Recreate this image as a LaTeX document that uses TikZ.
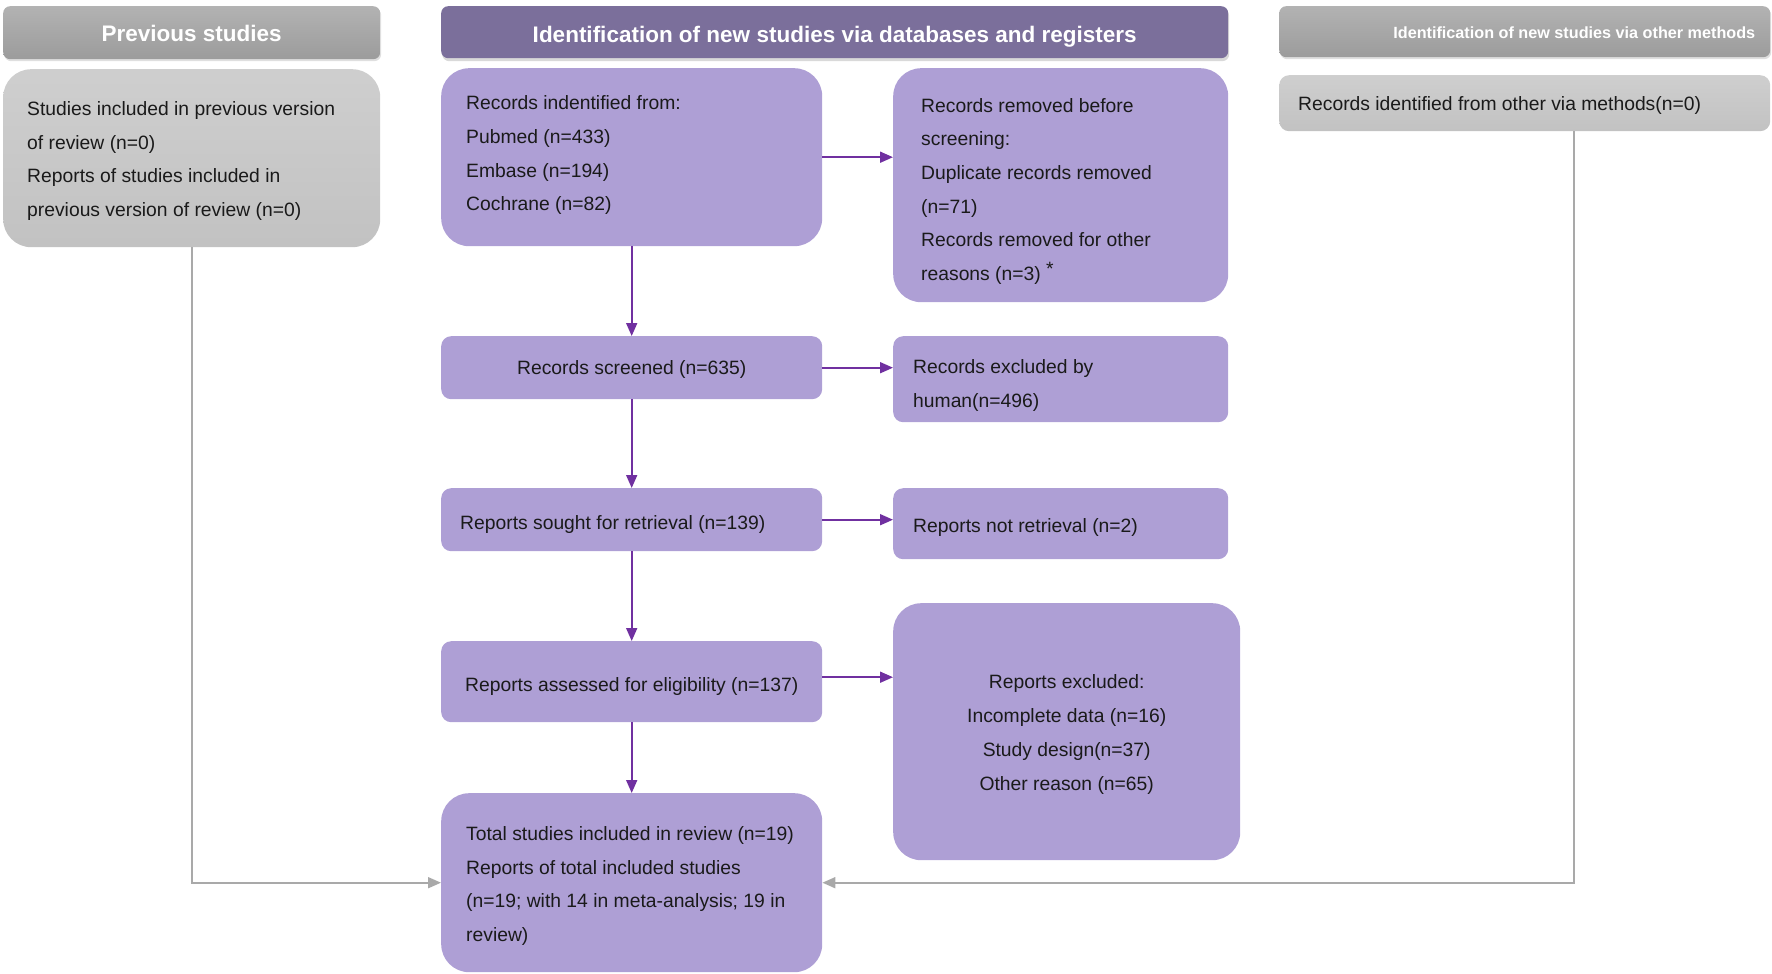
\documentclass[tikz,border=0pt]{standalone}
\usepackage{fontspec}
\setmainfont{Liberation Sans}
\usetikzlibrary{arrows.meta,shadows}
\definecolor{lav}{HTML}{AE9FD5}
\definecolor{purphead}{HTML}{7B6F9B}
\definecolor{purparrow}{HTML}{7030A0}
\definecolor{greyline}{HTML}{A9A9A9}
\definecolor{txt}{HTML}{1A1A1A}
\tikzset{
  pbox/.style={fill=lav, draw=none, inner sep=0pt, anchor=north west},
  gbox/.style={top color=gray!38, bottom color=gray!48, draw=none, inner sep=0pt, anchor=north west},
  ghead/.style={top color=gray!60, bottom color=gray!78, draw=none, inner sep=0pt, anchor=north west,
    rounded corners=7pt, drop shadow={shadow xshift=1pt, shadow yshift=-2pt, opacity=0.25}},
  phead/.style={fill=purphead, draw=none, inner sep=0pt, anchor=north west,
    rounded corners=7pt, drop shadow={shadow xshift=1pt, shadow yshift=-3pt, opacity=0.3}},
  big/.style={rounded corners=28pt},
  small/.style={rounded corners=10pt},
  btxt/.style={inner sep=0pt, text=txt, font=\fontsize{19.3}{33.7}\selectfont},
  ltxt/.style={btxt, anchor=west, align=left},
  ctxt/.style={btxt, anchor=center, align=center},
  htxt/.style={inner sep=0pt, text=white, font=\fontsize{22.5}{26}\selectfont\bfseries},
  parrow/.style={draw=purparrow, line width=1.8pt, -{Triangle[length=13pt,width=11pt]}},
  garrow/.style={draw=greyline, line width=1.8pt, -{Triangle[length=13pt,width=11pt]}},
}
\begin{document}
\begin{tikzpicture}[x=1pt,y=-1pt]
\useasboundingbox (0,0) rectangle (1772,974);
% headers
\node[ghead, minimum width=377, minimum height=53] (prevhead) at (3,6) {};
\node[htxt] (prevheadT) at ([yshift=-1.1pt]prevhead.center) {Previous studies};
\node[phead, minimum width=787, minimum height=52] (dbhead) at (441,6) {};
\node[htxt] (dbheadT) at ([yshift=-4.5pt]dbhead.center) {Identification of new studies via databases and registers};
\node[ghead, minimum width=491, minimum height=51] (othhead) at (1279,6) {};
\node[htxt, anchor=east, font=\fontsize{16.2}{20}\selectfont\bfseries] (othheadT) at ([xshift=-15pt,yshift=-1pt]othhead.east) {Identification of new studies via other methods};
% left column
\node[gbox, big, minimum width=377, minimum height=178] (prevbox) at (3,69) {};
\node[ltxt] (prevboxT) at ([xshift=24pt,yshift=-2.8pt]prevbox.west)
  {Studies included in previous version\\of review (n=0)\\Reports of studies included in\\previous version of review (n=0)};
% right column
\node[gbox, small, minimum width=491, minimum height=56] (othbox) at (1279,75) {};
\node[ltxt] (othboxT) at ([xshift=19pt,yshift=-2.3pt]othbox.west)
  {Records identified from other via methods(n=0)};
% centre column
\node[pbox, big, minimum width=381, minimum height=178] (ident) at (441,68) {};
\node[ltxt] (identT) at ([xshift=25pt,yshift=1.8pt]ident.west)
  {Records indentified from:\\Pubmed (n=433)\\Embase (n=194)\\Cochrane (n=82)};
\node[pbox, big, minimum width=335, minimum height=234] (removed) at (893,68) {};
\node[ltxt] (removedT) at ([xshift=28pt,yshift=-6.2pt]removed.west)
  {Records removed before\\screening:\\Duplicate records removed\\(n=71)\\Records removed for other\\reasons (n=3) \raisebox{5pt}{*}};
\node[pbox, small, minimum width=381, minimum height=63] (screened) at (441,336) {};
\node[ctxt] (screenedT) at ([yshift=-2.3pt]screened.center) {Records screened (n=635)};
\node[pbox, small, minimum width=335, minimum height=86] (excluded) at (893,336) {};
\node[ltxt] (excludedT) at ([xshift=20pt,yshift=-6.2pt]excluded.west) {Records excluded by\\human(n=496)};
\node[pbox, small, minimum width=381, minimum height=63] (sought) at (441,488) {};
\node[ltxt] (soughtT) at ([xshift=19pt,yshift=-4.5pt]sought.west) {Reports sought for retrieval (n=139)};
\node[pbox, small, minimum width=335, minimum height=71] (notret) at (893,488) {};
\node[ltxt] (notretT) at ([xshift=20pt,yshift=-3.4pt]notret.west) {Reports not retrieval (n=2)};
\node[pbox, small, minimum width=381, minimum height=81] (assessed) at (441,641) {};
\node[ctxt] (assessedT) at ([yshift=-4.5pt]assessed.center) {Reports assessed for eligibility (n=137)};
\node[pbox, big, minimum width=347, minimum height=257] (repexcl) at (893,603) {};
\node[ctxt] (repexclT) at ([yshift=-2.8pt]repexcl.center)
  {Reports excluded:\\Incomplete data (n=16)\\Study design(n=37)\\Other reason (n=65)};
\node[pbox, big, minimum width=381, minimum height=179] (total) at (441,793) {};
\node[ltxt] (totalT) at ([xshift=25pt,yshift=-3.4pt]total.west)
  {Total studies included in review (n=19)\\Reports of total included studies\\(n=19; with 14 in meta-analysis; 19 in\\review)};
% connectors
\draw[parrow] (ident.south) -- (screened.north);
\draw[parrow] (screened.south) -- (sought.north);
\draw[parrow] (sought.south) -- (assessed.north);
\draw[parrow] (assessed.south) -- (total.north);
\draw[parrow] (ident.east) -- (ident.east -| removed.west);
\draw[parrow] (screened.east) -- (screened.east -| excluded.west);
\draw[parrow] (sought.east) -- (sought.east -| notret.west);
\draw[parrow] ([yshift=4.5pt]assessed.east) -- ([yshift=4.5pt]assessed.east -| repexcl.west);
\coordinate (rx) at (1574,131);
\draw[garrow] (prevbox.south) |- (total.west);
\draw[garrow] (rx) |- (total.east);
\end{tikzpicture}
\end{document}
